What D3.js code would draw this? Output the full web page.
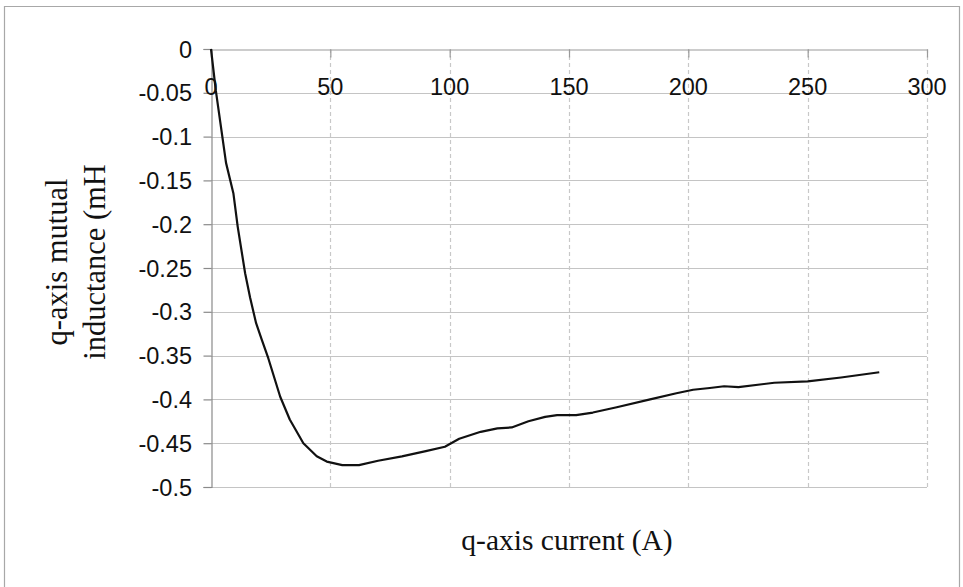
<!DOCTYPE html>
<html>
<head>
<meta charset="utf-8">
<script src="https://cdn.jsdelivr.net/npm/d3@7"></script>
<style>
  html, body { margin: 0; padding: 0; background: #fff; }
  svg { display: block; }
</style>
</head>
<body>
<svg id="chart" width="963" height="587"></svg>
<script>
// ---- data ----
const currentA = [0, 2, 6.3, 9.4, 11.2, 14.3, 16.4, 18.9, 21.3, 24, 29, 33, 38.7, 44.3, 48.5, 55, 62, 70, 80, 90, 98, 104, 113, 120, 126, 133, 140, 145, 153, 160, 170, 184, 195, 202, 209, 215, 221, 236, 250, 264, 280];
const inductanceMH = [0, -0.047, -0.130, -0.165, -0.203, -0.256, -0.284, -0.313, -0.332, -0.353, -0.397, -0.423, -0.450, -0.465, -0.471, -0.475, -0.475, -0.470, -0.465, -0.459, -0.454, -0.445, -0.437, -0.433, -0.432, -0.425, -0.420, -0.418, -0.418, -0.415, -0.409, -0.400, -0.393, -0.389, -0.387, -0.385, -0.386, -0.381, -0.3795, -0.375, -0.369];
const xTicks = [0, 50, 100, 150, 200, 250, 300];
const yTicks = [0, -0.05, -0.1, -0.15, -0.2, -0.25, -0.3, -0.35, -0.4, -0.45, -0.5];
const yTickLabels = ["0", "-0.05", "-0.1", "-0.15", "-0.2", "-0.25", "-0.3", "-0.35", "-0.4", "-0.45", "-0.5"];
const xTitle = "q-axis current (A)";
const yTitleLines = ["q-axis mutual", "inductance (mH"];

// ---- layout ----
const svg = d3.select("#chart");
const L = 211, R = 927, T = 49, B = 487;
const x = d3.scaleLinear().domain([0, 300]).range([L, R]);
const y = d3.scaleLinear().domain([0, -0.5]).range([T, B]);

// outer frame
svg.append("path")
  .attr("d", "M4.5,600 L4.5,6.5 L959.5,6.5 L959.5,600")
  .attr("fill", "none").attr("stroke", "#a8a8a8").attr("stroke-width", 1.2);

// horizontal gridlines
svg.append("g").selectAll("line").data(yTicks.slice(1)).join("line")
  .attr("x1", L).attr("x2", R)
  .attr("y1", d => Math.round(y(d)) + 0.5).attr("y2", d => Math.round(y(d)) + 0.5)
  .attr("stroke", "#c4c4c4").attr("stroke-width", 1.2);

// vertical gridlines (dashed)
svg.append("g").selectAll("line").data(xTicks.slice(1)).join("line")
  .attr("x1", d => Math.round(x(d)) + 0.5).attr("x2", d => Math.round(x(d)) + 0.5)
  .attr("y1", T).attr("y2", B)
  .attr("stroke", "#c8c8c8").attr("stroke-width", 1.2)
  .attr("stroke-dasharray", "4,3");

// y axis
const yAxis = d3.axisLeft(y).tickValues(yTicks).tickSize(8).tickFormat("");
const gy = svg.append("g").attr("transform", `translate(${L + 0.5},0)`).call(yAxis);
gy.selectAll("path,line").attr("stroke", "#8a8a8a").attr("stroke-width", 1.2);

// x axis at y=0 (top), ticks pointing down
const xAxis = d3.axisBottom(x).tickValues(xTicks).tickSize(8).tickSizeOuter(0).tickFormat("");
const gx = svg.append("g").attr("transform", `translate(0,${T + 0.5})`).call(xAxis);
gx.selectAll("path,line").attr("stroke", "#9a9a9a").attr("stroke-width", 1.2);

// y tick labels
svg.append("g").selectAll("text").data(yTicks).join("text")
  .attr("x", 192).attr("y", d => y(d) + 8.5)
  .attr("text-anchor", "end")
  .attr("font-family", "Liberation Sans, Arial, sans-serif").attr("font-size", 23.5)
  .attr("fill", "#111")
  .text((d, i) => yTickLabels[i]);

// x tick labels
svg.append("g").selectAll("text").data(xTicks).join("text")
  .attr("x", d => x(d)).attr("y", 95)
  .attr("text-anchor", "middle")
  .attr("font-family", "Liberation Sans, Arial, sans-serif").attr("font-size", 23.5)
  .attr("fill", "#111")
  .text(d => d);

// curve
const line = d3.line().x((d, i) => x(currentA[i])).y(d => y(d));
svg.append("path").datum(inductanceMH)
  .attr("d", line)
  .attr("fill", "none").attr("stroke", "#111").attr("stroke-width", 2.2)
  .attr("stroke-linejoin", "round");

// x title
svg.append("text")
  .attr("x", 567).attr("y", 550)
  .attr("text-anchor", "middle")
  .attr("font-family", "Liberation Serif, Times New Roman, serif").attr("font-size", 29.5)
  .attr("fill", "#111")
  .text(xTitle);

// y title
const yt = svg.append("g").attr("transform", "translate(0,262)");
[67, 105].forEach((bx, i) => {
  yt.append("text")
    .attr("transform", `translate(${bx},0) rotate(-90)`)
    .attr("text-anchor", "middle")
    .attr("font-family", "Liberation Serif, Times New Roman, serif").attr("font-size", 30.5)
    .attr("fill", "#111")
    .text(yTitleLines[i]);
});
</script>
</body>
</html>
